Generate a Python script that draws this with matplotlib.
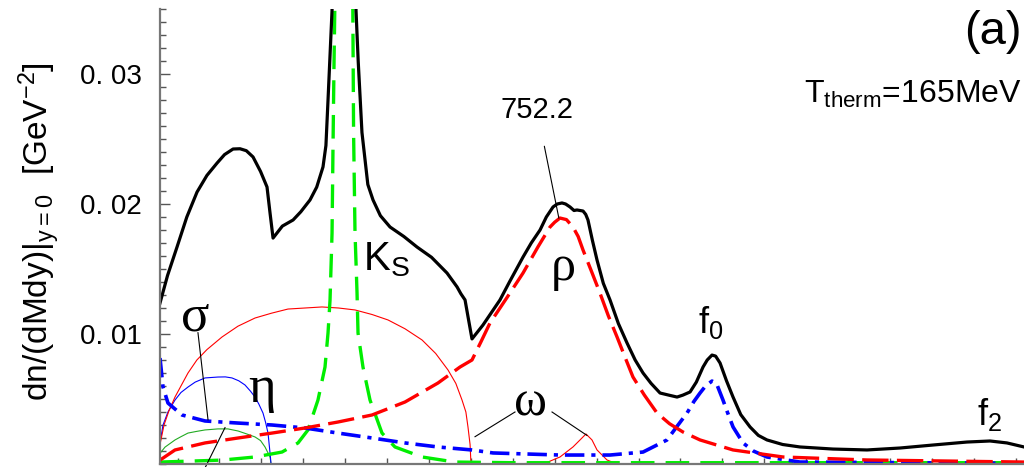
import matplotlib
matplotlib.use("Agg")
import matplotlib.pyplot as plt
from matplotlib.ticker import MultipleLocator, FixedLocator, FuncFormatter

# ---------------- data (M in GeV, dn/dMdy in GeV^-2) ----------------
total_M = [0.279, 0.2880, 0.2993, 0.3110, 0.3232, 0.3350, 0.3471, 0.3560, 0.3662, 0.3745,
           0.3820, 0.3900, 0.3990, 0.4067, 0.4103, 0.4139, 0.4250, 0.4378, 0.4470, 0.4580,
           0.4660, 0.4735, 0.4770, 0.4795, 0.4843, 0.4855, 0.4977, 0.5115, 0.5129, 0.5155,
           0.5200, 0.5270, 0.5332, 0.5420, 0.5535, 0.5700, 0.5857, 0.6030, 0.6215, 0.6335,
           0.6380, 0.6430, 0.6466, 0.6513, 0.6644, 0.6847, 0.6960, 0.7122, 0.7220, 0.7325,
           0.7400, 0.7480, 0.7530, 0.7587, 0.7630, 0.7683, 0.7730, 0.7766, 0.7838, 0.7870,
           0.7897, 0.7950, 0.8005, 0.8080, 0.8160, 0.8260, 0.8363, 0.8460, 0.8554, 0.8650,
           0.8757, 0.8860, 0.8960, 0.9030, 0.9115, 0.9190, 0.9270, 0.9320, 0.9377, 0.9420,
           0.9473, 0.9550, 0.9628, 0.9720, 0.9831, 0.9930, 1.0033, 1.0220, 1.0427, 1.0821,
           1.1227, 1.1621, 1.2014, 1.2420, 1.2695, 1.2897, 1.3100]
total_y = [0.01238, 0.0145, 0.01669, 0.0190, 0.02092, 0.0222, 0.02315, 0.0238, 0.02423, 0.02425,
           0.0241, 0.02362, 0.0225, 0.02131, 0.01931, 0.01738, 0.0183, 0.01877, 0.0194, 0.02031,
           0.0213, 0.02285, 0.0245, 0.0280, 0.0349, 0.050, 0.120, 0.050, 0.0349, 0.0310,
           0.0255, 0.0215, 0.02031, 0.0191, 0.01823, 0.0175, 0.01669, 0.0159, 0.01469, 0.01362,
           0.0131, 0.01262, 0.01131, 0.00962, 0.01069, 0.01262, 0.0140, 0.01592, 0.0170, 0.0180,
           0.0190, 0.01977, 0.0200, 0.02008, 0.0200, 0.01977, 0.0195, 0.01954, 0.01946, 0.0192,
           0.01877, 0.0172, 0.01569, 0.0139, 0.01262, 0.0108, 0.00931, 0.0080, 0.0070, 0.0062,
           0.00546, 0.0053, 0.00515, 0.0053, 0.00554, 0.0063, 0.00746, 0.0080, 0.00838, 0.0083,
           0.00777, 0.0064, 0.00515, 0.0038, 0.00285, 0.0022, 0.00185, 0.0015, 0.00131, 0.00115,
           0.00108, 0.00123, 0.00146, 0.00169, 0.00177, 0.00162, 0.00131]

rho_M = [0.279, 0.2969, 0.3327, 0.3721, 0.4127, 0.452, 0.4914, 0.532, 0.5714, 0.6107,
         0.6370, 0.6513, 0.6620, 0.6728, 0.6930, 0.7122, 0.7300, 0.7444, 0.7500, 0.7563,
         0.7640, 0.7718, 0.7780, 0.7838, 0.7940, 0.8040, 0.8140, 0.8244, 0.8340, 0.8434,
         0.8570, 0.8721, 0.8870, 0.9031, 0.9234, 0.9628, 1.0224, 1.1227, 1.31]
rho_y = [0.0003, 0.00108, 0.00162, 0.0020, 0.00238, 0.00277, 0.00323, 0.00377, 0.00477, 0.00623,
         0.00746, 0.0080, 0.0094, 0.01085, 0.0128, 0.01469, 0.0167, 0.01823, 0.0186, 0.01892,
         0.0188, 0.01823, 0.0175, 0.01646, 0.0148, 0.01315, 0.0114, 0.00977, 0.0082, 0.00669,
         0.0053, 0.00392, 0.0031, 0.00246, 0.00185, 0.00108, 0.00054, 0.00031, 0.00015]

ks_M = [0.279, 0.353, 0.3924, 0.4246, 0.4437, 0.4556, 0.4675, 0.4759, 0.4795, 0.4819,
        0.4843, 0.4854, 0.4866, 0.4878, 0.4977, 0.5090, 0.5100, 0.5117, 0.5141, 0.5153,
        0.5212, 0.5296, 0.5439, 0.5594, 0.5917, 0.6310, 0.70, 1.31]
ks_y = [0.00015, 0.0003, 0.00054, 0.00092, 0.00162, 0.00262, 0.00492, 0.00746, 0.01008, 0.01262,
        0.01777, 0.02415, 0.03054, 0.0360, 0.150, 0.0360, 0.0255, 0.0178, 0.0132, 0.01008,
        0.00746, 0.00492, 0.00238, 0.00131, 0.00054, 0.00015, 0.0001, 0.0001]

f0_M = [0.279, 0.2826, 0.2885, 0.3053, 0.3327, 0.3721, 0.4127, 0.452, 0.4914, 0.532,
        0.5714, 0.6107, 0.6513, 0.6764, 0.7563, 0.8160, 0.8554, 0.884, 0.8960, 0.9079,
        0.9160, 0.9234, 0.9300, 0.9377, 0.9430, 0.9508, 0.9560, 0.9628, 0.9747, 0.9870,
        1.0033, 1.0427, 1.31]
f0_y = [0.00815, 0.00592, 0.00469, 0.00377, 0.00331, 0.00315, 0.0030, 0.00277, 0.00238, 0.0020,
        0.00162, 0.00131, 0.00108, 0.00085, 0.00069, 0.00069, 0.00092, 0.00185, 0.0029, 0.00392,
        0.0048, 0.00546, 0.0060, 0.00638, 0.0062, 0.00492, 0.0040, 0.00285, 0.00162, 0.0010,
        0.00054, 0.00015, 0.00005]

omega_M = [0.279, 0.2838, 0.2897, 0.2969, 0.3040, 0.3124, 0.3230, 0.3350, 0.353, 0.372,
           0.3924, 0.4120, 0.4317, 0.452, 0.4723, 0.492, 0.5117, 0.532, 0.5511, 0.5714,
           0.5917, 0.6080, 0.6227, 0.6320, 0.6394, 0.6440, 0.6465, 0.6490, 0.6501, 0.70,
           0.74, 0.7563, 0.7718, 0.7802, 0.7873, 0.7945, 0.8005, 0.8124, 0.8244, 1.31]
omega_y = [0.0015, 0.0030, 0.0041, 0.00515, 0.0060, 0.0070, 0.0080, 0.0088, 0.00977, 0.0106,
           0.01123, 0.0116, 0.01192, 0.0120, 0.01208, 0.0120, 0.01185, 0.0115, 0.01108, 0.0104,
           0.00954, 0.0085, 0.00723, 0.0062, 0.00492, 0.0040, 0.00285, 0.0015, 0.0, 0.0,
           0.0001, 0.00054, 0.00131, 0.00185, 0.00231, 0.00185, 0.00108, 0.00031, 0.0, 0.0]

eta_M = [0.2802, 0.2826, 0.2885, 0.2969, 0.3040, 0.3124, 0.3210, 0.3327, 0.3482, 0.3570,
         0.3649, 0.3730, 0.3804, 0.3870, 0.3924, 0.3970, 0.4019, 0.4050, 0.4079, 0.4103,
         0.4115, 1.31]
eta_y = [0.00208, 0.0030, 0.0040, 0.00492, 0.0055, 0.00592, 0.0063, 0.00662, 0.00669, 0.0067,
         0.00662, 0.0064, 0.00608, 0.0056, 0.00515, 0.0046, 0.00392, 0.0032, 0.00238, 0.00085,
         0.0, 0.0]

sig_M = [0.2802, 0.2850, 0.2969, 0.3040, 0.3124, 0.3220, 0.3327, 0.3482, 0.3600, 0.3721,
         0.3830, 0.3924, 0.3990, 0.4043, 0.4103, 0.4115, 1.31]
sig_y = [0.00092, 0.0013, 0.00185, 0.0021, 0.00238, 0.0025, 0.00262, 0.0027, 0.0027, 0.00254,
         0.0023, 0.00208, 0.0018, 0.00131, 0.00054, 0.0, 0.0]

ytick_vals = [0.01, 0.02, 0.03]

# ---------------- figure ----------------
plt.rcParams['font.family'] = ['Liberation Sans', 'DejaVu Sans']
plt.rcParams['mathtext.default'] = 'regular'
plt.rcParams['lines.scale_dashes'] = False
plt.rcParams['lines.solid_joinstyle'] = 'round'

fig = plt.figure(figsize=(10.24, 4.67), dpi=100)
ax = fig.add_axes([160 / 1024, 3 / 467, 864 / 1024, 455 / 467])
ax.set_xlim(0.279, 1.31)
ax.set_ylim(0, 0.035)

GREEN = '#00ee00'
ax.plot(sig_M, sig_y, color='#22aa22', lw=0.8)
ax.plot(eta_M, eta_y, color='#0000ff', lw=0.8)
ax.plot(omega_M, omega_y, color='#ff0000', lw=0.8)
ax.plot(ks_M, ks_y, color=GREEN, lw=2.4, dashes=(17, 8))
ax.plot(f0_M, f0_y, color='#0000ff', lw=2.6, dashes=(14, 5, 3, 5))
ax.plot(rho_M, rho_y, color='#ff0000', lw=2.4, dashes=(19, 6))
ax.plot(total_M, total_y, color='black', lw=2.3)

# axes styling
for s in ('top', 'right'):
    ax.spines[s].set_visible(False)
for s in ('left', 'bottom'):
    ax.spines[s].set_color('#777777')
    ax.spines[s].set_linewidth(1.6)

ax.yaxis.set_major_locator(FixedLocator(ytick_vals))
ax.yaxis.set_minor_locator(MultipleLocator(0.001))
ax.yaxis.set_major_formatter(FuncFormatter(lambda v, p: ('%.2f' % v).replace('.', '. ')))
ax.tick_params(axis='y', which='major', direction='in', length=7, width=1, color='#555555',
               labelsize=20, pad=13)
ax.tick_params(axis='y', which='minor', direction='in', length=4, width=1, color='#555555')
ax.xaxis.set_major_locator(MultipleLocator(0.05))
ax.tick_params(axis='x', which='major', direction='in', length=4, width=1, color='#555555',
               labelbottom=False)

fig.text(40 / 1024, 1 - 232 / 467, r'dn/(dMdy)|$_{y=0}$  [GeV$^{-2}$]', rotation=90,
         ha='center', va='center', fontsize=24)

# labels
serif = ['Liberation Serif', 'DejaVu Serif']
ax.text(0.3208, 0.0113, 'σ', family=serif, fontsize=38, ha='center', va='center')
ax.text(0.4007, 0.0058, 'η', family=serif, fontsize=38, ha='center', va='center')
ax.text(0.7217, 0.0047, 'ω', family=serif, fontsize=36, ha='center', va='center')
ax.text(0.7600, 0.0151, 'ρ', family=serif, fontsize=36, ha='center', va='center')
ax.text(0.5212, 0.0149, 'K$_S$', fontsize=29, ha='left', va='baseline')
ax.text(0.9210, 0.0101, 'f$_0$', fontsize=26, ha='left', va='baseline')
ax.text(1.2540, 0.0030, 'f$_2$', fontsize=26, ha='left', va='baseline')

ax.annotate('752.2', xy=(0.755, 0.0189), xytext=(0.729, 0.0272), fontsize=21,
            ha='center', va='center',
            arrowprops=dict(arrowstyle='-', lw=0.8, color='black', shrinkA=14, shrinkB=0))
ax.plot([0.3243, 0.3363], [0.0101, 0.0034], color='black', lw=0.8)
ax.plot([0.7026, 0.6549], [0.0040, 0.0021], color='black', lw=0.8)
ax.plot([0.7468, 0.7885], [0.0040, 0.0022], color='black', lw=0.8)
ax.plot([0.3327, 0.3566], [-0.0003, 0.0028], color='black', lw=0.8, clip_on=False)

fig.text(1022 / 1024, 1 - 32 / 467, '(a)', fontsize=34, ha='right', va='center')
fig.text(1022 / 1024, 1 - 103 / 467, r'T$_{therm}$=165MeV', fontsize=23, ha='right',
         va='baseline')

fig.savefig('out.png', dpi=100)
